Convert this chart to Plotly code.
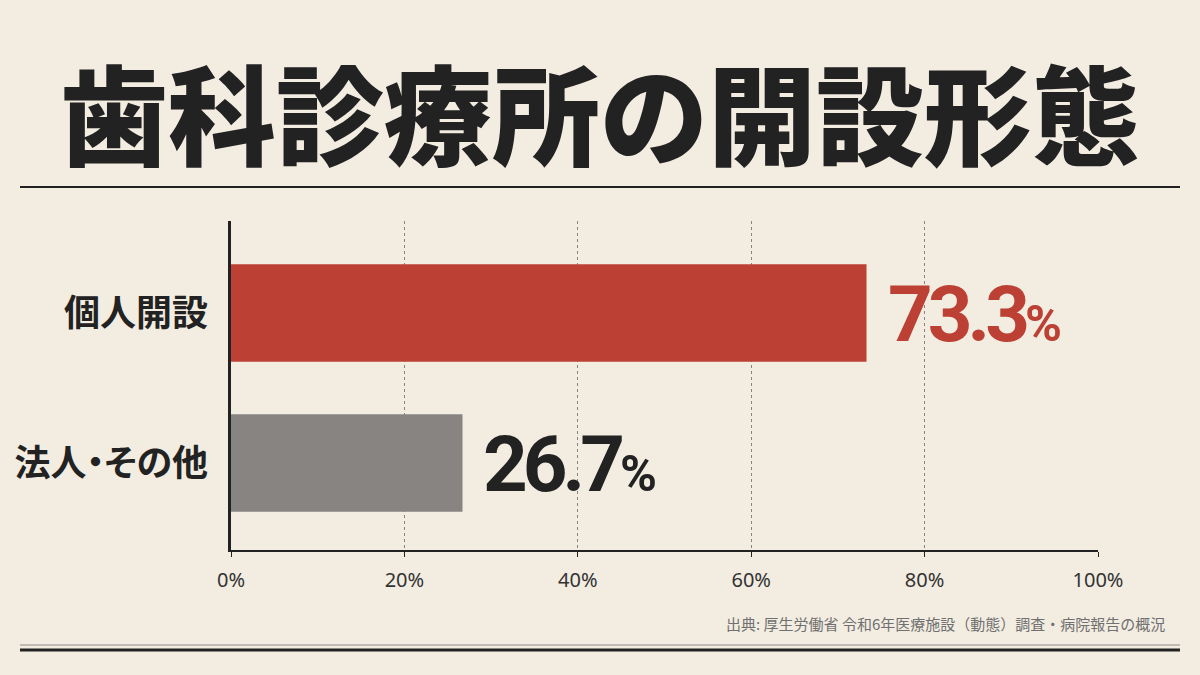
import plotly.graph_objects as go

title = "歯科診療所の開設形態"
categories = ["個人開設", "法人・その他"]
values = [73.3, 26.7]
bar_colors = ["#BC4033", "#878481"]
label_colors = ["#BC4033", "#222222"]
tick_vals = [0, 20, 40, 60, 80, 100]
tick_text = ["0%", "20%", "40%", "60%", "80%", "100%"]
source = "出典: 厚生労働省 令和6年医療施設（動態）調査・病院報告の概況"

W, H = 1200, 675
L, R, T, B = 231, 1098, 221, 550

def px(x):
    return (x - L) / (R - L)

def py(y):
    return 1 - (y - T) / (B - T)

BG = "#F2ECE1"
INK = "#222222"

fig = go.Figure()
fig.add_trace(go.Bar(
    x=values, y=categories, orientation="h",
    marker=dict(color=bar_colors, line=dict(width=0)),
    width=0.65, hoverinfo="skip",
))

for cat, v, c in zip(categories, values, label_colors):
    fig.add_annotation(
        x=v, y=cat, xref="x", yref="y",
        text=(f"<span style='letter-spacing:-5px'>{v:.1f}</span>"
              f"<span style='font-size:50px'>%</span>"),
        showarrow=False, xanchor="left", yanchor="middle", xshift=19, yshift=-2,
        font=dict(family="Roboto", size=78, color=c, weight=700),
    )

fig.add_annotation(
    x=px(600), y=py(110), xref="paper", yref="paper",
    text=title, showarrow=False, xanchor="center", yanchor="middle",
    font=dict(family="Noto Sans CJK JP", size=108, color=INK, weight=900),
)
fig.add_annotation(
    x=px(1167), y=py(623), xref="paper", yref="paper",
    text=source, showarrow=False, xanchor="right", yanchor="middle",
    font=dict(family="Noto Sans CJK JP", size=15, color="#707070"),
)

# divider lines
fig.add_shape(type="line", xref="paper", yref="paper",
              x0=px(20), x1=px(1180), y0=py(187), y1=py(187),
              line=dict(color=INK, width=2))
fig.add_shape(type="line", xref="paper", yref="paper",
              x0=px(20), x1=px(1180), y0=py(645), y1=py(645),
              line=dict(color="#8a8a8a", width=1.2))
fig.add_shape(type="line", xref="paper", yref="paper",
              x0=px(20), x1=px(1180), y0=py(650), y1=py(650),
              line=dict(color=INK, width=3))

cat_text = [f"<span style=\"font-feature-settings:'palt'\">{c}</span>" for c in categories]

fig.update_layout(
    width=W, height=H,
    margin=dict(l=L, r=W - R, t=T, b=H - B, pad=0, autoexpand=False),
    paper_bgcolor=BG, plot_bgcolor=BG,
    showlegend=False,
)
fig.update_xaxes(
    range=[0, 100], tickmode="array", tickvals=tick_vals, ticktext=tick_text,
    showgrid=True, gridcolor="#858585", gridwidth=1, griddash="dot",
    zeroline=False, automargin=False,
    showline=True, linecolor=INK, linewidth=2,
    ticks="outside", ticklen=5, tickcolor=INK, tickwidth=1,
    tickfont=dict(family="Noto Sans", size=20, color="#333333"),
    ticklabelstandoff=6, fixedrange=True,
)
fig.update_yaxes(
    categoryorder="array", categoryarray=categories,
    tickmode="array", tickvals=categories, ticktext=cat_text,
    range=[1.58, -0.613], automargin=False,
    showgrid=False, zeroline=False,
    showline=True, linecolor=INK, linewidth=2.5,
    ticks="", ticklabelstandoff=13,
    tickfont=dict(family="Noto Sans CJK JP", size=36, color=INK, weight=700),
    fixedrange=True,
)

fig.write_html("out.html", config={"displayModeBar": False},
               post_script="document.body.style.margin='0';")
